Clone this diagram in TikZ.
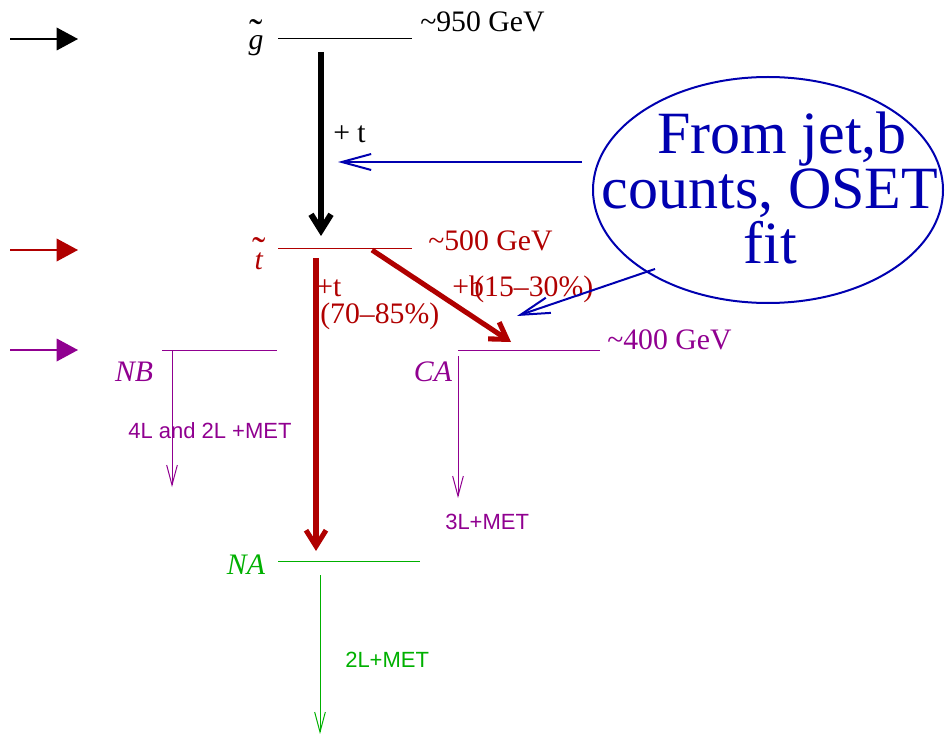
\documentclass[tikz,border=0pt]{standalone}
\usepackage{fontspec}
\setmainfont{Liberation Serif}
\setsansfont{Liberation Sans}
\usetikzlibrary{arrows.meta,shapes.geometric}
\definecolor{dred}{RGB}{176,0,0}
\definecolor{dpurp}{RGB}{144,0,144}
\definecolor{dgreen}{RGB}{0,176,0}
\definecolor{dblue}{RGB}{0,0,176}
\newcommand\ovtilde[2]{\leavevmode\sbox0{\textit{#1}}\hbox to \wd0{\hss\raisebox{#2}{\fontsize{30}{30}\selectfont\char"02DC}\hss}\kern-\wd0\usebox0}
\begin{document}
\begin{tikzpicture}[x=0.75pt,y=-0.75pt,
  levelline/.style={line width=0.75pt},
  lbl/.style={font=\fontsize{22.3}{24}\selectfont, inner sep=0pt},
  slbl/.style={font=\sffamily\fontsize{16.5}{18}\selectfont, inner sep=0pt},
  entry/.style={line width=1pt, -{Triangle[length=16pt,width=17pt]}},
  bigdecay/.style={line width=4.5pt, -{Straight Barb[length=12pt,width=15pt]}},
  reddecay/.style={dred, line width=3.8pt, -{Straight Barb[length=12pt,width=15pt]}},
  thindecay/.style={line width=0.75pt, -{Straight Barb[length=15pt,width=8pt]}},
  pointer/.style={dblue, line width=1.5pt, -{Straight Barb[length=22pt,width=12pt]}}]
\useasboundingbox (0,0) rectangle (945,734);

% gluino
\coordinate (eg1) at (10,39); \coordinate (eg2) at (78,39);
\draw[entry] (eg1) -- (eg2);
\node[lbl, anchor=base] (glab) at (256,50) {\ovtilde{g}{2.25pt}};
\coordinate (gL) at (278,39); \coordinate (gR) at (412,39);
\draw[levelline] (gL) -- (gR);
\node[lbl, anchor=base west] (gmass) at (420,32) {\textasciitilde950 GeV};
\coordinate (gs) at (321,52); \coordinate (ge) at (321,236);
\draw[bigdecay] (gs) -- (ge);
\node[lbl, anchor=base west] (plust) at (333,143) {+ t};

% stop
\coordinate (et1) at (10,250); \coordinate (et2) at (78,250);
\draw[entry, dred] (et1) -- (et2);
\node[lbl, anchor=base, dred] (tlab) at (259,269) {\ovtilde{t}{3.75pt}};
\coordinate (tL) at (278,249); \coordinate (tR) at (412,249);
\draw[levelline, dred] (tL) -- (tR);
\node[lbl, anchor=base west, dred] (tmass) at (428,250) {\textasciitilde500 GeV};
\coordinate (ts) at (316,258); \coordinate (te) at (316,551);
\draw[reddecay] (ts) -- (te);
\node[lbl, anchor=base west, dred] (tt) at (316,296) {+t};
\node[lbl, anchor=base west, dred] (ttbr) at (320,323) {(70–85\%)};
\coordinate (ds) at (372,250); \coordinate (de) at (511,342);
\draw[reddecay] (ds) -- (de);
\node[lbl, anchor=base west, dred] (tb) at (452,296) {+b};
\node[lbl, anchor=base west, dred] (tbbr) at (474,296) {(15–30\%)};

% level 3
\coordinate (en1) at (10,350); \coordinate (en2) at (78,350);
\draw[entry, dpurp] (en1) -- (en2);
\coordinate (nbL) at (162,350); \coordinate (nbR) at (277,350);
\draw[levelline, dpurp] (nbL) -- (nbR);
\node[lbl, anchor=base, dpurp] (nblab) at (134,381) {\textit{NB}};
\coordinate (nbs) at (172,350); \coordinate (nbe) at (172,487);
\draw[thindecay, dpurp] (nbs) -- (nbe);
\node[slbl, anchor=base west, dpurp] (nbdec) at (128,438) {4L and 2L +MET};
\coordinate (caL) at (458,350); \coordinate (caR) at (600,350);
\draw[levelline, dpurp] (caL) -- (caR);
\node[lbl, anchor=base, dpurp] (calab) at (433,381) {\textit{CA}};
\coordinate (cas) at (458,356); \coordinate (cae) at (458,498);
\draw[thindecay, dpurp] (cas) -- (cae);
\node[slbl, anchor=base west, dpurp] (cadec) at (445,529) {3L+MET};
\node[lbl, anchor=base west, dpurp] (camass) at (607,349) {\textasciitilde400 GeV};

% NA
\coordinate (naL) at (278,561); \coordinate (naR) at (420,561);
\draw[levelline, dgreen] (naL) -- (naR);
\node[lbl, anchor=base, dgreen] (nalab) at (246,574) {\textit{NA}};
\coordinate (nas) at (320,575); \coordinate (nae) at (320,734);
\draw[thindecay, dgreen] (nas) -- (nae);
\node[slbl, anchor=base west, dgreen] (nadec) at (345,667) {2L+MET};

% oval
\node[ellipse, draw=dblue, line width=1.5pt, minimum width=262.5pt, minimum height=169.5pt, inner sep=0pt] (oval) at (768,190) {};
\node[font=\fontsize{45}{41.5}\selectfont, align=center, text=dblue, inner sep=0pt] (ovaltxt) at (770,188) {\hspace*{18pt}From jet,b\\counts, OSET\hspace*{9pt}\\fit};
\coordinate (p1s) at (582,162); \coordinate (p1e) at (338,162);
\draw[pointer] (p1s) -- (p1e);
\coordinate (p2s) at (655,269); \coordinate (p2e) at (517,316);
\draw[pointer] (p2s) -- (p2e);
\end{tikzpicture}
\end{document}
